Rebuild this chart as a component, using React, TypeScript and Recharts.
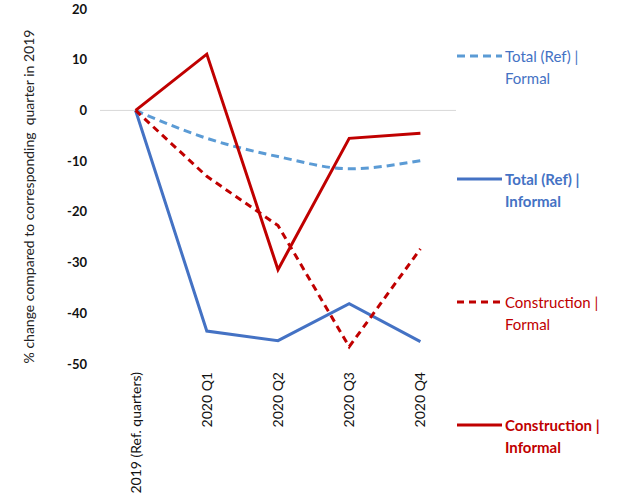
import React from 'react';
import { LineChart, Line, XAxis, YAxis, ReferenceLine } from 'recharts';

const categories = ['2019 (Ref. quarters)', '2020 Q1', '2020 Q2', '2020 Q3', '2020 Q4'];
const totalFormal = [0, -5.5, -9.1, -11.5, -9.9];
const totalInformal = [0, -43.5, -45.4, -38.1, -45.6];
const constructionFormal = [0, -13, -22.7, -46.6, -27.3];
const constructionInformal = [0, 11.1, -31.4, -5.5, -4.5];
const yTicks = [20, 10, 0, -10, -20, -30, -40, -50];
const yTitle = '% change compared to corresponding  quarter in 2019';

const data = categories.map((c, i) => ({
  cat: c,
  tf: totalFormal[i],
  ti: totalInformal[i],
  cf: constructionFormal[i],
  ci: constructionInformal[i],
}));

const FONT = 'Lato, "Open Sans", sans-serif';

const legendItems = [
  { l1: 'Total (Ref) |', l2: 'Formal', color: '#5B9BD5', text: '#4472C4', dash: '8 5', bold: false },
  { l1: 'Total (Ref) |', l2: 'Informal', color: '#4472C4', text: '#4472C4', dash: undefined, bold: true },
  { l1: 'Construction |', l2: 'Formal', color: '#C00000', text: '#C00000', dash: '7 5', bold: false },
  { l1: 'Construction |', l2: 'Informal', color: '#C00000', text: '#C00000', dash: undefined, bold: true },
];

const LegendBox = () => (
  <div style={{ position: 'absolute', left: 455, top: 45, width: 173, height: 420, fontFamily: FONT }}>
    {legendItems.map((it, i) => (
      <div key={i} style={{ position: 'absolute', left: 0, top: i * 123, display: 'flex' }}>
        <svg width={50} height={22} style={{ flex: 'none' }}>
          <line x1={2} x2={47} y1={11} y2={11} stroke={it.color} strokeWidth={3} strokeDasharray={it.dash} />
        </svg>
        <div style={{ color: it.text, fontSize: 15, lineHeight: '22px', fontWeight: it.bold ? 700 : 400, whiteSpace: 'nowrap' }}>
          {it.l1}
          <br />
          {it.l2}
        </div>
      </div>
    ))}
  </div>
);

const XTick = (props: any) => {
  const { x, y, payload } = props;
  return (
    <g transform={`translate(${x},${y})`}>
      <text transform="rotate(-90)" textAnchor="end" dy="0.35em" fontSize={14} fill="#111" fontFamily={FONT}>
        {payload.value}
      </text>
    </g>
  );
};

const YTitle = (props: any) => {
  const vb = props.viewBox || {};
  const cx = (vb.x || 0) + 28;
  const cy = (vb.y || 0) + (vb.height || 0) / 2 + 10;
  return (
    <text
      x={cx}
      y={cy}
      transform={`rotate(-90, ${cx}, ${cy})`}
      textAnchor="middle"
      dominantBaseline="central"
      fontSize={14}
      fill="#222"
      fontFamily={FONT}
      style={{ whiteSpace: 'pre' }}
    >
      {yTitle}
    </text>
  );
};

export default function App() {
  return (
    <div style={{ position: 'absolute', left: 0, top: 0, width: 628, height: 503, background: '#fff' }}>
      <LineChart width={628} height={503} data={data} margin={{ top: 9, right: 172, left: 0, bottom: 0 }}>
        <XAxis
          dataKey="cat"
          scale="band"
          axisLine={false}
          tickLine={false}
          height={139}
          tickMargin={2}
          interval={0}
          tick={<XTick />}
        />
        <YAxis
          domain={[-50, 20]}
          ticks={yTicks}
          interval={0}
          axisLine={false}
          tickLine={false}
          width={100}
          tickMargin={7}
          tick={{ fontSize: 13, fontWeight: 700, fill: '#111', fontFamily: FONT }}
          label={<YTitle />}
        />
        <ReferenceLine y={0} stroke="#d9d9d9" strokeWidth={1} />
        <Line dataKey="tf" type="monotone" stroke="#5B9BD5" strokeWidth={3} strokeDasharray="8 5" dot={false} isAnimationActive={false} />
        <Line dataKey="ti" type="linear" stroke="#4472C4" strokeWidth={3} dot={false} isAnimationActive={false} />
        <Line dataKey="cf" type="linear" stroke="#C00000" strokeWidth={3} strokeDasharray="7 5" dot={false} isAnimationActive={false} />
        <Line dataKey="ci" type="linear" stroke="#C00000" strokeWidth={3} dot={false} isAnimationActive={false} />
      </LineChart>
      <LegendBox />
    </div>
  );
}
